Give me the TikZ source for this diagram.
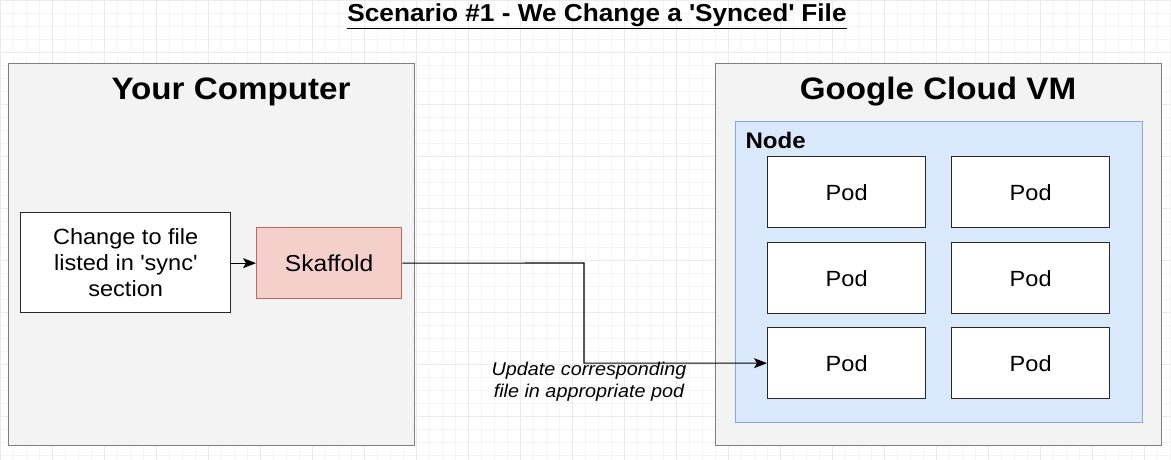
\documentclass[tikz,border=0pt]{standalone}
\usepackage{fontspec}
\setmainfont[FakeStretch=1.07]{Liberation Sans}
\usetikzlibrary{arrows.meta}
\definecolor{gridminor}{HTML}{F5F5F5}
\definecolor{gridmajor}{HTML}{EBEBEB}
\definecolor{outerfill}{HTML}{F3F3F3}
\definecolor{outerline}{HTML}{7F7F7F}
\definecolor{nodefill}{HTML}{DAE8FC}
\definecolor{nodeline}{HTML}{8EA8CF}
\definecolor{skfill}{HTML}{F5D0CB}
\definecolor{skline}{HTML}{C0665E}
\tikzset{
  outerbox/.style={draw=outerline, fill=outerfill, line width=1.3pt, anchor=north west, inner sep=0},
  clusterbox/.style={draw=nodeline, fill=nodefill, line width=1.3pt, anchor=north west, inner sep=0},
  podbox/.style={draw=black!85, fill=white, line width=1.3pt, anchor=north west, inner sep=0,
    minimum width=158pt, minimum height=71pt, font=\fontsize{22}{26}\selectfont},
  changebox/.style={draw=black!85, fill=white, line width=1.3pt, anchor=north west, inner sep=0,
    minimum width=210pt, minimum height=100pt, align=center, font=\fontsize{22}{26}\selectfont},
  skbox/.style={draw=skline, fill=skfill, line width=1.3pt, anchor=north west, inner sep=0,
    minimum width=145pt, minimum height=71pt, font=\fontsize{23}{27}\selectfont},
  heading/.style={font=\fontsize{31}{36}\selectfont\bfseries},
  conn/.style={draw=black, line width=1.1pt, -{Stealth[length=13pt,width=10pt,inset=3pt]}}
}
\begin{document}
\begin{tikzpicture}[x=1pt,y=-1pt]
\useasboundingbox (0,0) rectangle (1171,460);
\fill[white] (0,0) rectangle (1171,460);
% background grid
\draw[gridminor, line width=0.6pt] (0,0) grid[step=13pt] (1171,460);
\draw[gridmajor, line width=0.8pt] (0,0) grid[step=52pt] (1171,460);
% title
\node[font=\fontsize{24.5}{28}\selectfont\bfseries] (title) at (597,16) {\underline{Scenario \#1 - We Change a \textquotesingle Synced\textquotesingle\ File}};
% outer boxes
\node[outerbox, minimum width=406pt, minimum height=382pt] (comp) at (8,63) {};
\node[outerbox, minimum width=446pt, minimum height=382pt] (vm) at (715,63) {};
\node[heading] (compt) at (231,92) {Your Computer};
\node[heading] (vmt) at (938,92) {Google Cloud VM};
% cluster node
\node[clusterbox, minimum width=407pt, minimum height=301pt] (knode) at (735,121) {};
\node[font=\fontsize{22.5}{26}\selectfont\bfseries, anchor=west] (knodet) at (742,140) {Node};
% pods
\node[podbox] (p11) at (767,156) {Pod};
\node[podbox] (p12) at (951,156) {Pod};
\node[podbox] (p21) at (767,242) {Pod};
\node[podbox] (p22) at (951,242) {Pod};
\node[podbox] (p31) at (767,327) {Pod};
\node[podbox] (p32) at (951,327) {Pod};
% left side
\node[changebox] (change) at (20,212) {Change to file\\listed in \textquotesingle sync\textquotesingle\\section};
\node[skbox] (sk) at (256,227) {Skaffold};
\draw[conn] (change.east |- sk.east) -- (sk.west);
\coordinate (bend) at (584,263);
\draw[conn] (sk.east) -- (bend) |- (p31.west);
\node[font=\fontsize{18.5}{22}\selectfont\itshape, align=center] (lbl) at (589,382) {Update corresponding\\file in appropriate pod};
\end{tikzpicture}
\end{document}
